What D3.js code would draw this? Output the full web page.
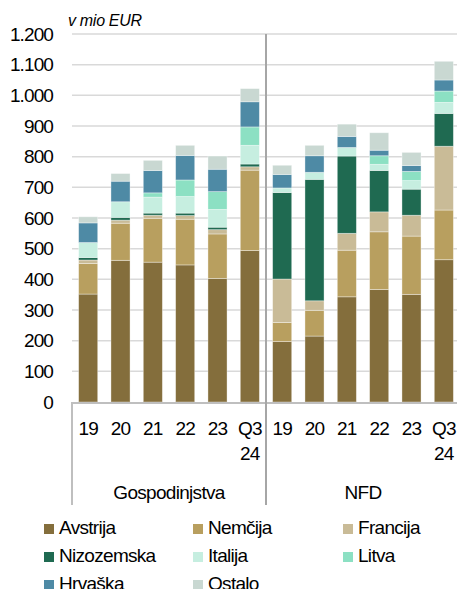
<!DOCTYPE html>
<html>
<head>
<meta charset="utf-8">
<script src="https://cdn.jsdelivr.net/npm/d3@7"></script>
<style>
  body { margin: 0; background: #fff; }
  svg text { font-family: "Liberation Sans", Arial, sans-serif; fill: #000; }
</style>
</head>
<body>
<svg id="chart" width="457" height="589"></svg>
<script>
// data (mio EUR)
var groups = ["Gospodinjstva", "NFD"];
var periods = ["19", "20", "21", "22", "23", "Q3 24"];
var yTicks = [0, 100, 200, 300, 400, 500, 600, 700, 800, 900, 1000, 1100, 1200];

var seriesNames = ["Avstrija", "Nemčija", "Francija", "Nizozemska", "Italija", "Litva", "Hrvaška", "Ostalo"];
var seriesColors = ["#846e3c", "#b89f5f", "#c9bb97", "#1f6a51", "#c6eee0", "#8ce0c3", "#4e8aa5", "#c9d8d2"];

// first 6 = Gospodinjstva, last 6 = NFD
var avstrija   = [352, 462, 456, 447, 403, 494, 197, 215, 343, 367, 351, 464];
var nemcija    = [100, 121, 143, 149, 145, 262,  62,  84, 152, 188, 190, 162];
var francija   = [ 11,  10,  10,  12,  14,  11, 142,  31,  55,  65,  68, 208];
var nizozemska = [  8,   9,   7,   8,   8,   9, 282, 396, 252, 135,  85, 107];
var italija    = [ 49,  51,  52,  54,  58,  61,  15,  23,  28,  20,  28,  36];
var litva      = [  0,   0,  14,  54,  58,  60,   0,   0,   0,  28,  30,  37];
var hrvaska    = [ 64,  67,  73,  80,  73,  82,  44,  54,  36,  18,  19,  36];
var ostalo     = [ 20,  25,  33,  33,  43,  43,  30,  34,  40,  57,  43,  61];

var seriesValues = [avstrija, nemcija, francija, nizozemska, italija, litva, hrvaska, ostalo];

// build rows for d3.stack
var rows = [];
groups.forEach(function(g, gi) {
    periods.forEach(function(p, pi) {
        var idx = gi * periods.length + pi;
        var row = { key: g + "|" + p, period: p };
        seriesNames.forEach(function(s, si) { row[s] = seriesValues[si][idx]; });
        rows.push(row);
    });
});

var svg = d3.select("#chart");
var plotLeft = 72, plotRight = 460, plotTop = 34, plotBottom = 402;

var x = d3.scaleBand()
    .domain(rows.map(function(d) { return d.key; }))
    .range([plotLeft, plotRight])
    .paddingInner(0.41)
    .paddingOuter(0.205);

var y = d3.scaleLinear().domain([0, 1200]).range([plotBottom, plotTop]);

var fmt = d3.formatLocale({ decimal: ",", thousands: ".", grouping: [3], currency: ["", "€"] }).format(",");

// gridlines
svg.append("g")
    .selectAll("line")
    .data(yTicks.slice(1))
    .enter()
    .append("line")
    .attr("x1", plotLeft).attr("x2", 457)
    .attr("y1", function(d) { return y(d); })
    .attr("y2", function(d) { return y(d); })
    .attr("stroke", "#d9d9d9")
    .attr("stroke-width", 1.5);

// y tick labels
svg.append("g")
    .selectAll("text")
    .data(yTicks)
    .enter()
    .append("text")
    .attr("x", 53)
    .attr("y", function(d) { return y(d); })
    .attr("dy", "0.35em")
    .attr("text-anchor", "end")
    .style("font-size", "19px")
    .style("letter-spacing", "-0.9px")
    .text(function(d) { return fmt(d); });

svg.append("text")
    .attr("x", 68).attr("y", 26)
    .style("font-size", "16px")
    .style("font-style", "italic")
    .style("letter-spacing", "-0.3px")
    .text("v mio EUR");

// stacked bars
var stack = d3.stack().keys(seriesNames)(rows);

svg.append("g")
    .selectAll("g")
    .data(stack)
    .enter()
    .append("g")
    .attr("fill", function(d, i) { return seriesColors[i]; })
    .selectAll("rect")
    .data(function(d) { return d.filter(function(v) { return v[1] - v[0] > 0; }); })
    .enter()
    .append("rect")
    .attr("x", function(d) { return x(d.data.key); })
    .attr("width", x.bandwidth())
    .attr("y", function(d) { return y(d[1]); })
    .attr("height", function(d) { return y(d[0]) - y(d[1]); })
    .attr("stroke", "rgba(255,255,255,0.45)")
    .attr("stroke-width", 0.8);

// axis lines
svg.append("line")
    .attr("x1", plotLeft).attr("x2", 457)
    .attr("y1", plotBottom + 1).attr("y2", plotBottom + 1)
    .attr("stroke", "#bfbfbf").attr("stroke-width", 2);

var dividerX = x(rows[periods.length].key) - x.step() * x.paddingInner() / 2;
svg.append("line")
    .attr("x1", plotLeft).attr("x2", plotLeft)
    .attr("y1", plotBottom).attr("y2", 505)
    .attr("stroke", "#bfbfbf").attr("stroke-width", 2);
svg.append("line")
    .attr("x1", dividerX).attr("x2", dividerX)
    .attr("y1", plotTop).attr("y2", 505)
    .attr("stroke", "#a6a6a6").attr("stroke-width", 2);

// period labels (two lines for "Q3 24")
var xl = svg.append("g")
    .selectAll("text")
    .data(rows)
    .enter()
    .append("text")
    .attr("text-anchor", "middle")
    .style("font-size", "19px")
    .style("letter-spacing", "-0.8px")
    .attr("transform", function(d) { return "translate(" + (x(d.key) + x.bandwidth() / 2) + ",435)"; });

xl.selectAll("tspan")
    .data(function(d) { return d.period.split(" "); })
    .enter()
    .append("tspan")
    .attr("x", 0)
    .attr("y", function(d, i) { return i * 25; })
    .text(function(d) { return d; });

// group labels
svg.append("g")
    .selectAll("text")
    .data(groups)
    .enter()
    .append("text")
    .attr("x", function(g, gi) {
        var first = x(rows[gi * periods.length].key);
        var last = x(rows[gi * periods.length + periods.length - 1].key) + x.bandwidth();
        return (first + last) / 2;
    })
    .attr("y", 499)
    .attr("text-anchor", "middle")
    .style("font-size", "19px")
    .style("letter-spacing", "-0.7px")
    .text(function(d) { return d; });

// legend
var legendCols = [44, 193, 343];
var legend = svg.append("g")
    .selectAll("g")
    .data(seriesNames)
    .enter()
    .append("g")
    .attr("transform", function(d, i) {
        return "translate(" + legendCols[i % 3] + "," + (524 + Math.floor(i / 3) * 28) + ")";
    });

legend.append("rect")
    .attr("width", 10).attr("height", 10)
    .attr("fill", function(d, i) { return seriesColors[i]; });

legend.append("text")
    .attr("x", 15).attr("y", 9.5)
    .style("font-size", "19px")
    .style("letter-spacing", "-0.7px")
    .text(function(d) { return d; });
</script>
</body>
</html>
